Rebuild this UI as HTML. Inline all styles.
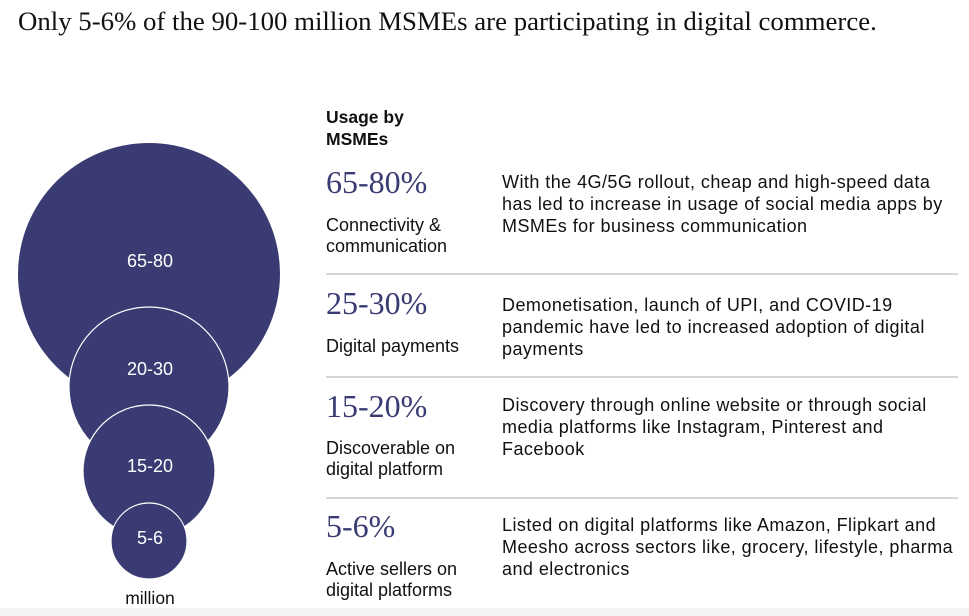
<!DOCTYPE html>
<html><head><meta charset="utf-8">
<style>
body{margin:0;width:969px;height:616px;background:#fff;position:relative;overflow:hidden;font-family:"Liberation Sans",sans-serif;color:#111}
.a{position:absolute}
.title{left:18px;top:6px;font-family:"Liberation Serif",serif;font-size:26.8px;color:#111;white-space:nowrap}
.hd{left:326px;top:106px;font-weight:bold;font-size:17.5px;line-height:22px}
.big{left:326px;font-family:"Liberation Serif",serif;font-size:32px;color:#3a3b72;white-space:nowrap}
.lbl{left:326px;font-size:18px;line-height:21px;white-space:nowrap}
.desc{left:502px;font-size:18px;line-height:22px;width:458px;letter-spacing:0.45px}
.sep{left:326px;width:632px;height:1.5px;background:#d6d6d6}
</style></head><body>
<div class="a title">Only 5-6% of the 90-100 million MSMEs are participating in digital commerce.</div>
<svg class="a" style="left:0;top:0" width="320" height="616">
<g id="bubbles"></g>
<text x="150" y="604" text-anchor="middle" font-family="Liberation Sans" font-size="17.5" fill="#111">million</text>
</svg>
<div class="a hd">Usage by<br>MSMEs</div>

<div class="a big" style="top:164px">65-80%</div>
<div class="a lbl" style="top:215px">Connectivity &amp;<br>communication</div>
<div class="a desc" style="top:171px">With the 4G/5G rollout, cheap and high-speed data has led to increase in usage of social media apps by MSMEs for business communication</div>
<div class="a sep" style="top:273px"></div>

<div class="a big" style="top:285px">25-30%</div>
<div class="a lbl" style="top:336px">Digital payments</div>
<div class="a desc" style="top:294px">Demonetisation, launch of UPI, and COVID-19 pandemic have led to increased adoption of digital payments</div>
<div class="a sep" style="top:376px"></div>

<div class="a big" style="top:388px">15-20%</div>
<div class="a lbl" style="top:438px">Discoverable on<br>digital platform</div>
<div class="a desc" style="top:394px">Discovery through online website or through social media platforms like Instagram, Pinterest and Facebook</div>
<div class="a sep" style="top:497px"></div>

<div class="a big" style="top:508px">5-6%</div>
<div class="a lbl" style="top:559px">Active sellers on<br>digital platforms</div>
<div class="a desc" style="top:514px">Listed on digital platforms like Amazon, Flipkart and Meesho across sectors like, grocery, lifestyle, pharma and electronics</div>
<div class="a" style="left:0;top:608px;width:969px;height:8px;background:#f4f4f4"></div>
<script>
const labels=["65-80","20-30","15-20","5-6"];
const radii=[131,80,66,38];
const ns="http://www.w3.org/2000/svg";
const g=document.getElementById('bubbles');
const cx=149;
const cys=[274,387,471,541];
const labelYs=[267,375,472,544];
for(let i=0;i<labels.length;i++){
 const c=document.createElementNS(ns,'circle');
 c.setAttribute('cx',cx);c.setAttribute('cy',cys[i]);c.setAttribute('r',radii[i]);
 c.setAttribute('fill','#3a3b72');c.setAttribute('stroke',i?'#fff':'none');c.setAttribute('stroke-width','1.2');
 
 
 g.appendChild(c);
 const t=document.createElementNS(ns,'text');
 t.setAttribute('x',cx+1);t.setAttribute('y',labelYs[i]);
 t.setAttribute('text-anchor','middle');t.setAttribute('fill','#fff');
 t.setAttribute('font-family','Liberation Sans');t.setAttribute('font-size','18');
 t.textContent=labels[i];
 
 
 g.appendChild(t);
}
</script>
</body></html>
